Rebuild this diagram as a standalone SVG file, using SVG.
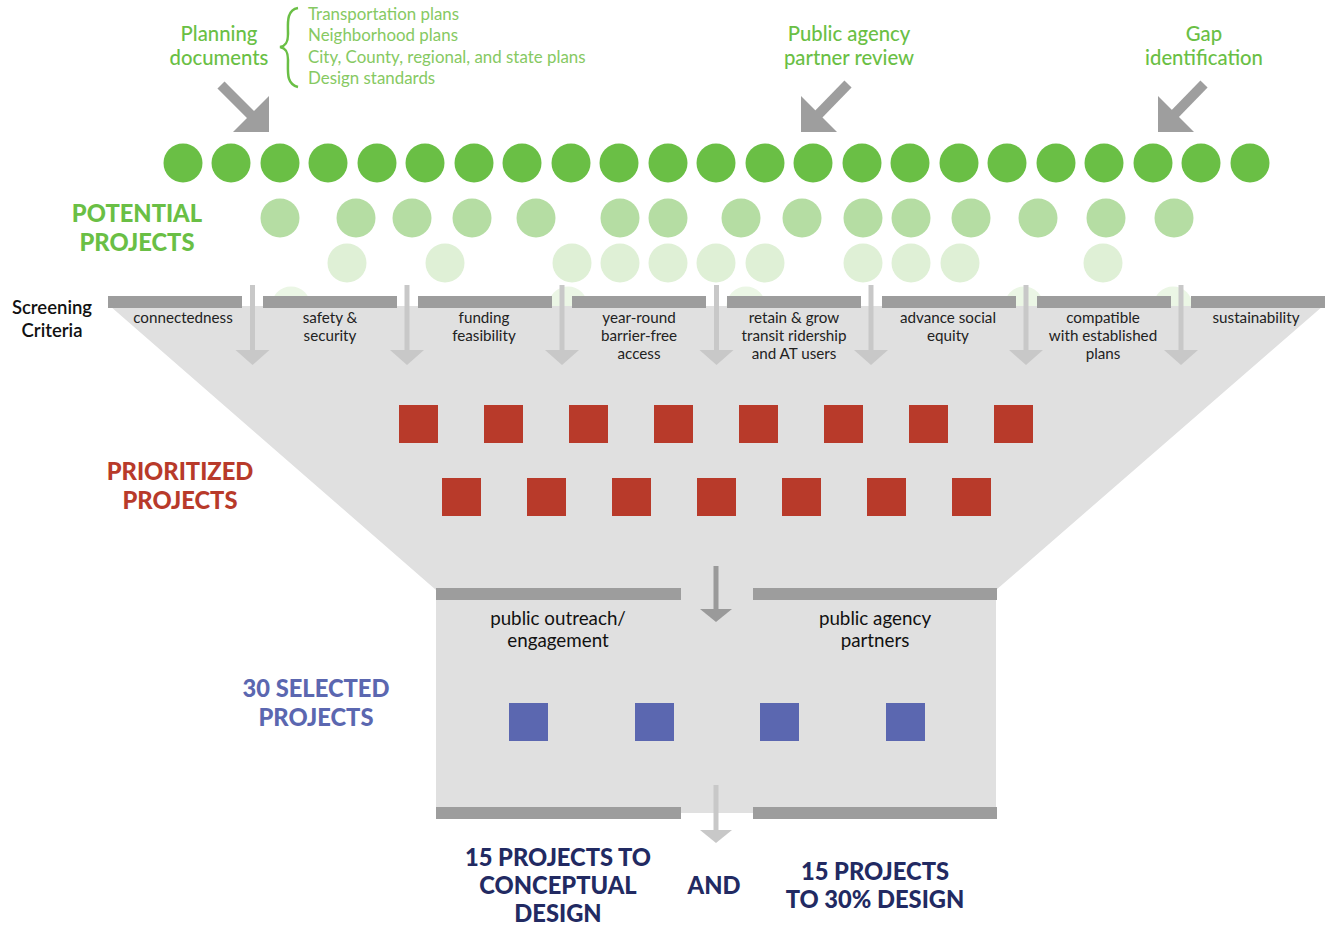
<svg xmlns="http://www.w3.org/2000/svg" width="1332" height="928" viewBox="0 0 1332 928">
<defs>
<style>
text{font-family:Lato,"Liberation Sans",sans-serif}
.c1{fill:#6abf45}.c2{fill:#b5dda3}.c3{fill:#dff0d6}.c4{fill:#ebf6e5}
.bar{fill:#9d9d9d}
.red{fill:#b83a2a}.blue{fill:#5b67b0}
.crit{font-size:15.2px;fill:#222;text-anchor:middle}
.big{font-size:23.7px;font-weight:900;text-anchor:middle}
.grn{font-size:20.3px;fill:#6abf45;text-anchor:middle;font-weight:500}
.lst{font-size:16.9px;fill:#86c962}
.sm{font-size:18.8px;fill:#111;text-anchor:middle}
.ar{fill:#c8c8c8}.arl{stroke:#c8c8c8;stroke-width:5}
.big-ar{fill:#9e9e9e}.big-arl{stroke:#9e9e9e;stroke-width:10}
</style>
</defs>
<g id="circles">
<g class="c1">
<circle cx="183" cy="163" r="19.5"/><circle cx="231" cy="163" r="19.5"/><circle cx="280" cy="163" r="19.5"/><circle cx="328" cy="163" r="19.5"/><circle cx="377" cy="163" r="19.5"/><circle cx="425" cy="163" r="19.5"/><circle cx="474" cy="163" r="19.5"/><circle cx="522" cy="163" r="19.5"/><circle cx="571" cy="163" r="19.5"/><circle cx="619" cy="163" r="19.5"/><circle cx="668" cy="163" r="19.5"/><circle cx="716" cy="163" r="19.5"/><circle cx="765" cy="163" r="19.5"/><circle cx="813" cy="163" r="19.5"/><circle cx="862" cy="163" r="19.5"/><circle cx="910" cy="163" r="19.5"/><circle cx="959" cy="163" r="19.5"/><circle cx="1007" cy="163" r="19.5"/><circle cx="1056" cy="163" r="19.5"/><circle cx="1104" cy="163" r="19.5"/><circle cx="1153" cy="163" r="19.5"/><circle cx="1201" cy="163" r="19.5"/><circle cx="1250" cy="163" r="19.5"/>
</g>
<g class="c2">
<circle cx="280" cy="218" r="19.5"/><circle cx="356" cy="218" r="19.5"/><circle cx="412" cy="218" r="19.5"/><circle cx="472" cy="218" r="19.5"/><circle cx="536" cy="218" r="19.5"/><circle cx="620" cy="218" r="19.5"/><circle cx="668" cy="218" r="19.5"/><circle cx="741" cy="218" r="19.5"/><circle cx="802" cy="218" r="19.5"/><circle cx="863" cy="218" r="19.5"/><circle cx="911" cy="218" r="19.5"/><circle cx="971" cy="218" r="19.5"/><circle cx="1038" cy="218" r="19.5"/><circle cx="1106" cy="218" r="19.5"/><circle cx="1174" cy="218" r="19.5"/>
</g>
<g class="c3">
<circle cx="347" cy="263" r="19.5"/><circle cx="445" cy="263" r="19.5"/><circle cx="572" cy="263" r="19.5"/><circle cx="620" cy="263" r="19.5"/><circle cx="668" cy="263" r="19.5"/><circle cx="716" cy="263" r="19.5"/><circle cx="765" cy="263" r="19.5"/><circle cx="863" cy="263" r="19.5"/><circle cx="911" cy="263" r="19.5"/><circle cx="960" cy="263" r="19.5"/><circle cx="1103" cy="263" r="19.5"/>
</g>
<g class="c4">
<circle cx="291" cy="306" r="19.5"/><circle cx="568" cy="306" r="19.5"/><circle cx="746" cy="306" r="19.5"/><circle cx="1024" cy="306" r="19.5"/><circle cx="1173" cy="306" r="19.5"/>
</g>
</g>
<g id="funnel">
<polygon points="110,306 1323,306 996,590 996,813 436,813 436,590" fill="#e0e0e0"/>
</g>
<g id="screening-bars">
<rect class="bar" x="108" y="296" width="134" height="12"/>
<rect class="bar" x="263" y="296" width="134" height="12"/>
<rect class="bar" x="418" y="296" width="134" height="12"/>
<rect class="bar" x="572" y="296" width="134" height="12"/>
<rect class="bar" x="727" y="296" width="134" height="12"/>
<rect class="bar" x="882" y="296" width="134" height="12"/>
<rect class="bar" x="1037" y="296" width="134" height="12"/>
<rect class="bar" x="1191" y="296" width="134" height="12"/>
<rect class="bar" x="436" y="588" width="245" height="12"/>
<rect class="bar" x="753" y="588" width="244" height="12"/>
<rect class="bar" x="436" y="807" width="245" height="12"/>
<rect class="bar" x="753" y="807" width="244" height="12"/>
</g>
<g id="connectors">
<g class="arl">
<line x1="252.5" y1="285" x2="252.5" y2="352"/><line x1="407" y1="285" x2="407" y2="352"/><line x1="562" y1="285" x2="562" y2="352"/><line x1="716.5" y1="285" x2="716.5" y2="352"/><line x1="871" y1="285" x2="871" y2="352"/><line x1="1026" y1="285" x2="1026" y2="352"/><line x1="1181" y1="285" x2="1181" y2="352"/>
<line x1="716" y1="785" x2="716" y2="834"/>
</g>
<g class="ar">
<polygon points="235.5,350 269.5,350 252.5,365"/><polygon points="390,350 424,350 407,365"/><polygon points="545,350 579,350 562,365"/><polygon points="699.5,350 733.5,350 716.5,365"/><polygon points="854,350 888,350 871,365"/><polygon points="1009,350 1043,350 1026,365"/><polygon points="1164,350 1198,350 1181,365"/>
<polygon points="700,830 732,830 716,843"/>
</g>
<line x1="716" y1="566" x2="716" y2="612" stroke="#9a9a9a" stroke-width="5"/>
<polygon points="700,609 732,609 716,622" fill="#9a9a9a"/>
<line class="big-arl" x1="221" y1="85" x2="256" y2="120"/>
<polygon class="big-ar" points="233,132 269,132 269,96"/>
<line class="big-arl" x1="848" y1="84" x2="813" y2="120"/>
<polygon class="big-ar" points="801,96 801,132 837,132"/>
<line class="big-arl" x1="1204" y1="84" x2="1169" y2="120"/>
<polygon class="big-ar" points="1158,96 1158,132 1194,132"/>
</g>
<g id="planning-documents">
<text class="grn"><tspan x="219" y="41">Planning</tspan><tspan x="219" y="65">documents</tspan></text>
<path d="M298,8 C286,10 288,24 288,34 C288,42 286,46 280,47 C286,48 288,52 288,60 C288,72 286,84 298,87" fill="none" stroke="#6abf45" stroke-width="2.5"/>
<text class="lst"><tspan x="308" y="20">Transportation plans</tspan><tspan x="308" y="41">Neighborhood plans</tspan><tspan x="308" y="63">City, County, regional, and state plans</tspan><tspan x="308" y="84">Design standards</tspan></text>
</g>
<g id="public-agency-review">
<text class="grn"><tspan x="849" y="41">Public agency</tspan><tspan x="849" y="65">partner review</tspan></text>
</g>
<g id="gap-identification">
<text class="grn"><tspan x="1204" y="41">Gap</tspan><tspan x="1204" y="65">identification</tspan></text>
</g>
<g id="potential-projects">
<text class="big" fill="#6abf45"><tspan x="137" y="222">POTENTIAL</tspan><tspan x="137" y="251">PROJECTS</tspan></text>
</g>
<g id="screening-criteria">
<text style="font-size:18.5px;font-weight:600;fill:#111;text-anchor:middle"><tspan x="52" y="314">Screening</tspan><tspan x="52" y="337">Criteria</tspan></text>
<text class="crit" x="183" y="323">connectedness</text>
<text class="crit"><tspan x="330" y="323">safety &amp;</tspan><tspan x="330" y="341">security</tspan></text>
<text class="crit"><tspan x="484" y="323">funding</tspan><tspan x="484" y="341">feasibility</tspan></text>
<text class="crit"><tspan x="639" y="323">year-round</tspan><tspan x="639" y="341">barrier-free</tspan><tspan x="639" y="359">access</tspan></text>
<text class="crit"><tspan x="794" y="323">retain &amp; grow</tspan><tspan x="794" y="341">transit ridership</tspan><tspan x="794" y="359">and AT users</tspan></text>
<text class="crit"><tspan x="948" y="323">advance social</tspan><tspan x="948" y="341">equity</tspan></text>
<text class="crit"><tspan x="1103" y="323">compatible</tspan><tspan x="1103" y="341">with established</tspan><tspan x="1103" y="359">plans</tspan></text>
<text class="crit" x="1256" y="323">sustainability</text>
</g>
<g id="prioritized-projects">
<g class="red">
<rect x="399" y="405" width="39" height="38"/><rect x="484" y="405" width="39" height="38"/><rect x="569" y="405" width="39" height="38"/><rect x="654" y="405" width="39" height="38"/><rect x="739" y="405" width="39" height="38"/><rect x="824" y="405" width="39" height="38"/><rect x="909" y="405" width="39" height="38"/><rect x="994" y="405" width="39" height="38"/>
<rect x="442" y="478" width="39" height="38"/><rect x="527" y="478" width="39" height="38"/><rect x="612" y="478" width="39" height="38"/><rect x="697" y="478" width="39" height="38"/><rect x="782" y="478" width="39" height="38"/><rect x="867" y="478" width="39" height="38"/><rect x="952" y="478" width="39" height="38"/>
</g>
<text class="big" fill="#b83a2a"><tspan x="180" y="480">PRIORITIZED</tspan><tspan x="180" y="509">PROJECTS</tspan></text>
</g>
<g id="selected-projects">
<text class="sm"><tspan x="558" y="625">public outreach/</tspan><tspan x="558" y="647">engagement</tspan></text>
<text class="sm"><tspan x="875" y="625">public agency</tspan><tspan x="875" y="647">partners</tspan></text>
<g class="blue">
<rect x="509" y="703" width="39" height="38"/><rect x="635" y="703" width="39" height="38"/><rect x="760" y="703" width="39" height="38"/><rect x="886" y="703" width="39" height="38"/>
</g>
<text class="big" fill="#5b67b0"><tspan x="316" y="697">30 SELECTED</tspan><tspan x="316" y="726">PROJECTS</tspan></text>
</g>
<g id="outcomes">
<text class="big" fill="#222a62"><tspan x="558" y="866">15 PROJECTS TO</tspan><tspan x="558" y="894">CONCEPTUAL</tspan><tspan x="558" y="922">DESIGN</tspan></text>
<text class="big" fill="#222a62" x="714" y="894">AND</text>
<text class="big" fill="#222a62"><tspan x="875" y="880">15 PROJECTS</tspan><tspan x="875" y="908">TO 30% DESIGN</tspan></text>
</g>
</svg>
